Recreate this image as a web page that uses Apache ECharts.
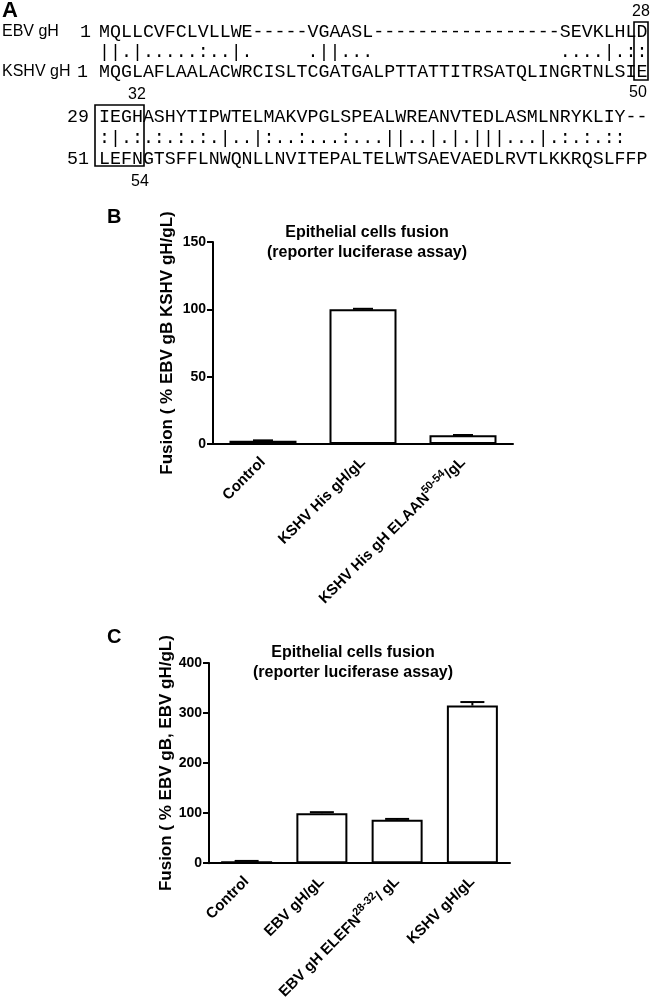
<!DOCTYPE html>
<html>
<head>
<meta charset="utf-8">
<script src="https://cdn.jsdelivr.net/npm/echarts@6/dist/echarts.min.js"></script>
<style>
  html, body { margin: 0; padding: 0; background: #fff; }
  #main { width: 650px; height: 1002px; }
</style>
</head>
<body>
<div id="main"></div>
<script>
// panel A alignment text
var ebvRow1 = "MQLLCVFCLVLLWE-----VGAASL-----------------SEVKLHLD";
var matchRow1 = "||.|.....:..|.     .||...                 ....|.::";
var kshvRow1 = "MQGLAFLAALACWRCISLTCGATGALPTTATTITRSATQLINGRTNLSIE";
var ebvRow2 = "IEGHASHYTIPWTELMAKVPGLSPEALWREANVTEDLASMLNRYKLIY--";
var matchRow2 = ":|.:.:.:.:.|..|:..:...:...||..|.|.|||...|.:.:.::";
var kshvRow2 = "LEFNGTSFFLNWQNLLNVITEPALTELWTSAEVAEDLRVTLKKRQSLFFP";

// panel B
var catsB = ["Control", "KSHV His gH/gL", "KSHV His gH ELAAN^50-54^/gL"];
var valsB = [2.5, 100, 6.5];
var errsB = [0.2, 0.4, 0.2];

// panel C
var catsC = ["Control", "EBV gH/gL", "EBV gH ELEFN^28-32^/ gL", "KSHV gH/gL"];
var valsC = [4, 100, 87, 315];
var errsC = [0.6, 2, 1.5, 7];

var ticksB = [0, 150, 50];
var ticksC = [0, 400, 100];

var sans = "Liberation Sans, Arial, sans-serif";
var mono = "Liberation Mono, monospace";

function supLabel(v) {
    return v.replace(/\^(.*?)\^/g, "{sup|$1}");
}

function errorSeries(idx, vals, errs, capW) {
    return {
        type: "custom",
        xAxisIndex: idx,
        yAxisIndex: idx,
        z: 5,
        renderItem: function(params, api) {
            var base = api.coord([api.value(0), api.value(1)]);
            var top = api.coord([api.value(0), api.value(1) + api.value(2)]);
            var st = { stroke: "#000", lineWidth: 2 };
            return {
                type: "group",
                children: [
                    { type: "line", shape: { x1: base[0], y1: base[1], x2: top[0], y2: top[1] }, style: st },
                    { type: "line", shape: { x1: top[0] - capW / 2, y1: top[1], x2: top[0] + capW / 2, y2: top[1] }, style: st }
                ]
            };
        },
        data: vals.map(function(v, i) { return [i, v, errs[i]]; })
    };
}

function xAxis(idx, cats) {
    return {
        type: "category",
        gridIndex: idx,
        data: cats,
        axisLine: { lineStyle: { color: "#000", width: 2 } },
        axisTick: { alignWithLabel: true, length: 6, lineStyle: { width: 2, color: "#000" } },
        axisLabel: {
            rotate: 45,
            margin: 16,
            interval: 0,
            color: "#000",
            fontFamily: sans,
            fontWeight: "bold",
            fontSize: 15,
            formatter: supLabel,
            rich: {
                sup: { fontSize: 11, fontWeight: "bold", fontFamily: sans, color: "#000", padding: [0, 0, 11, 0] }
            }
        }
    };
}

function yAxis(idx, t, name, gap) {
    return {
        type: "value",
        gridIndex: idx,
        min: t[0],
        max: t[1],
        interval: t[2],
        name: name,
        nameLocation: "middle",
        nameGap: gap,
        nameTextStyle: { color: "#000", fontFamily: sans, fontWeight: "bold", fontSize: 17 },
        splitLine: { show: false },
        axisLine: { show: true, lineStyle: { color: "#000", width: 2 } },
        axisTick: { show: true, length: 6, lineStyle: { width: 2, color: "#000" } },
        axisLabel: { color: "#000", fontFamily: sans, fontWeight: "bold", fontSize: 14, margin: 7 }
    };
}

function txt(x, y, s, font, size, weight, align) {
    return {
        type: "text",
        x: x,
        y: y,
        style: {
            text: s,
            fontFamily: font,
            fontSize: size,
            fontWeight: weight || "normal",
            fill: "#000",
            align: align || "left",
            verticalAlign: "middle"
        }
    };
}

function box(x, y, w, h) {
    return {
        type: "rect",
        shape: { x: x, y: y, width: w, height: h },
        style: { fill: null, stroke: "#000", lineWidth: 1.6 }
    };
}

var seqX = 99;
var graphics = [
    txt(2, 11, "A", sans, 22, "bold"),
    txt(2, 32, "EBV gH", sans, 16),
    txt(80, 32, "1", mono, 18.3),
    txt(seqX, 32, ebvRow1, mono, 18.3),
    txt(seqX, 52, matchRow1, mono, 18.3),
    txt(2, 72, "KSHV gH", sans, 16),
    txt(77, 72, "1", mono, 18.3),
    txt(seqX, 72, kshvRow1, mono, 18.3),
    txt(641, 12, "28", sans, 16, "normal", "center"),
    txt(638, 93, "50", sans, 16, "normal", "center"),
    box(634, 22, 14, 58),
    txt(137, 95, "32", sans, 16, "normal", "center"),
    txt(67, 117, "29", mono, 18.3),
    txt(seqX, 117, ebvRow2, mono, 18.3),
    txt(seqX, 138, matchRow2, mono, 18.3),
    txt(67, 159, "51", mono, 18.3),
    txt(seqX, 159, kshvRow2, mono, 18.3),
    box(95, 105, 49, 61),
    txt(140, 182, "54", sans, 16, "normal", "center"),

    txt(107, 217, "B", sans, 20, "bold"),
    txt(367, 233, "Epithelial cells fusion", sans, 16, "bold", "center"),
    txt(367, 253, "(reporter luciferase assay)", sans, 16, "bold", "center"),

    txt(107, 637, "C", sans, 20, "bold"),
    txt(353, 653, "Epithelial cells fusion", sans, 16, "bold", "center"),
    txt(353, 673, "(reporter luciferase assay)", sans, 16, "bold", "center")
];

var myChart = echarts.init(document.getElementById("main"));
var option = {
    backgroundColor: "#fff",
    animation: false,
    grid: [
        { left: 213, top: 242, width: 300, height: 202 },
        { left: 209, top: 663, width: 301, height: 201 }
    ],
    xAxis: [xAxis(0, catsB), xAxis(1, catsC)],
    yAxis: [
        yAxis(0, ticksB, "Fusion ( % EBV gB KSHV gH/gL)", 37),
        yAxis(1, ticksC, "Fusion ( % EBV gB, EBV gH/gL)", 34)
    ],
    graphic: graphics,
    series: [
        {
            type: "bar",
            xAxisIndex: 0,
            yAxisIndex: 0,
            barWidth: 67,
            data: valsB,
            itemStyle: { color: "#fff", borderColor: "#000", borderWidth: 2 }
        },
        errorSeries(0, valsB, errsB, 20),
        {
            type: "bar",
            xAxisIndex: 1,
            yAxisIndex: 1,
            barWidth: 51,
            data: valsC,
            itemStyle: { color: "#fff", borderColor: "#000", borderWidth: 2 }
        },
        errorSeries(1, valsC, errsC, 24)
    ]
};
myChart.setOption(option);
</script>
</body>
</html>
